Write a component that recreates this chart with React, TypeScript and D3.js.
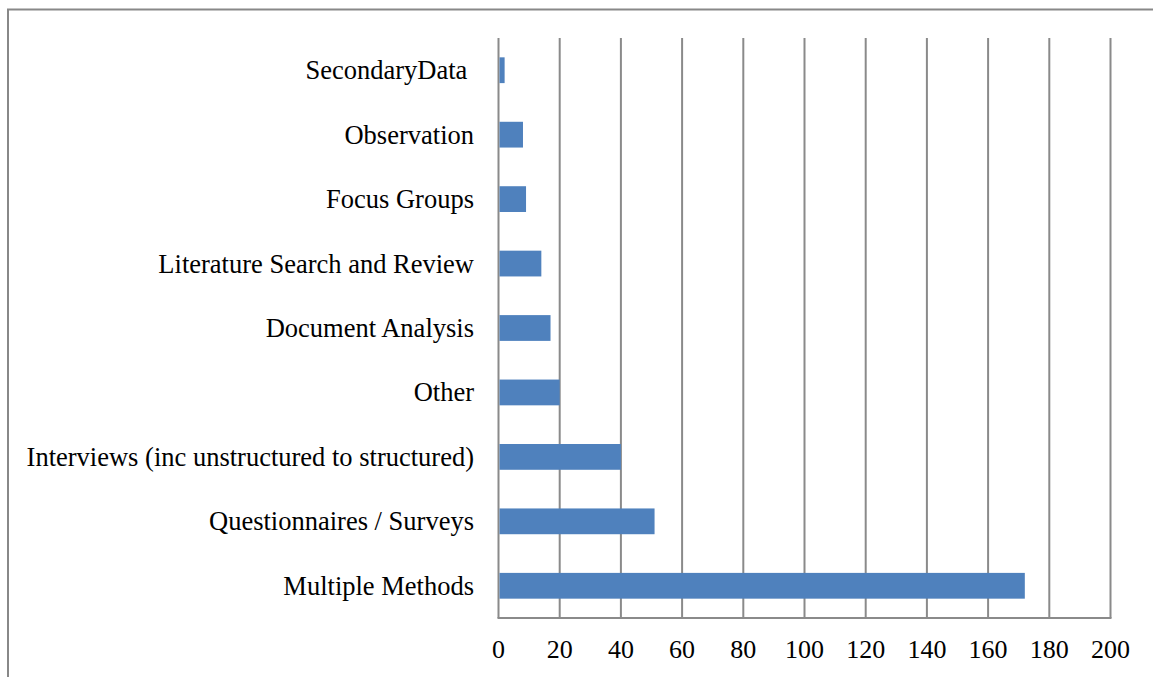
import React, { useEffect, useRef } from 'react';
import * as d3 from 'd3';

const categories = [
  'SecondaryData ',
  'Observation',
  'Focus Groups',
  'Literature Search and Review',
  'Document Analysis',
  'Other',
  'Interviews (inc unstructured to structured)',
  'Questionnaires / Surveys',
  'Multiple Methods',
];
const values = [2, 8, 9, 14, 17, 20, 40, 51, 172];
const xTicks = [0, 20, 40, 60, 80, 100, 120, 140, 160, 180, 200];

const App: React.FC = () => {
  const svgRef = useRef<SVGSVGElement>(null);

  useEffect(() => {
    if (!svgRef.current) return;
    const svg = d3.select(svgRef.current);
    svg.selectAll('*').remove();

    const width = 1153;
    const height = 677;
    const plot = { left: 498.5, right: 1110.5, top: 38, bottom: 618 };
    const font = '"Liberation Serif", "Times New Roman", serif';

    // outer chart frame (only top/left visible)
    svg.append('rect')
      .attr('x', 8)
      .attr('y', 9.5)
      .attr('width', width + 20)
      .attr('height', height + 20)
      .attr('fill', '#fff')
      .attr('stroke', '#888888')
      .attr('stroke-width', 2);

    const x = d3.scaleLinear().domain([0, 200]).range([plot.left, plot.right]);
    const y = d3.scaleBand<string>()
      .domain(categories)
      .range([plot.top, plot.bottom])
      .paddingInner(0.6)
      .paddingOuter(0.3);
    const band = (plot.bottom - plot.top) / categories.length;

    // vertical grid lines
    svg.append('g')
      .selectAll('line')
      .data(xTicks)
      .enter()
      .append('line')
      .attr('x1', d => x(d))
      .attr('x2', d => x(d))
      .attr('y1', plot.top)
      .attr('y2', plot.bottom)
      .attr('stroke', '#8a8a8a')
      .attr('stroke-width', 2);

    // bottom axis line
    svg.append('line')
      .attr('x1', plot.left - 1)
      .attr('x2', plot.right + 1)
      .attr('y1', plot.bottom)
      .attr('y2', plot.bottom)
      .attr('stroke', '#8a8a8a')
      .attr('stroke-width', 2);

    // bars
    svg.append('g')
      .selectAll('rect')
      .data(values)
      .enter()
      .append('rect')
      .attr('x', x(0) + 1)
      .attr('y', (_d, i) => y(categories[i]) as number)
      .attr('width', d => x(d) - x(0) - 1)
      .attr('height', y.bandwidth())
      .attr('fill', '#4f81bd');

    // category labels
    svg.append('g')
      .selectAll('text')
      .data(categories)
      .enter()
      .append('text')
      .attr('x', plot.left - 24.5)
      .attr('y', (_d, i) => plot.top + band * (i + 0.5) + 9)
      .attr('text-anchor', 'end')
      .style('white-space', 'pre')
      .attr('font-family', font)
      .attr('font-size', 26.5)
      .attr('fill', '#000')
      .text(d => d);

    // x tick labels
    svg.append('g')
      .selectAll('text')
      .data(xTicks)
      .enter()
      .append('text')
      .attr('x', d => x(d))
      .attr('y', plot.bottom + 40)
      .attr('text-anchor', 'middle')
      .attr('font-family', font)
      .attr('font-size', 26)
      .attr('fill', '#000')
      .text(d => d);
  }, []);

  return (
    <svg
      ref={svgRef}
      width={1153}
      height={677}
      style={{ position: 'absolute', left: 0, top: 0, display: 'block' }}
    />
  );
};

export default App;
